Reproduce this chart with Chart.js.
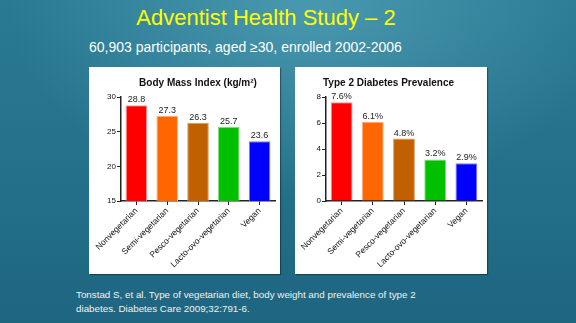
<!DOCTYPE html>
<html>
<head>
<meta charset="utf-8">
<script src="https://cdn.jsdelivr.net/npm/chart.js"></script>
<style>
  html, body { margin: 0; padding: 0; }
  body {
    width: 576px; height: 323px; overflow: hidden; position: relative;
    font-family: "Liberation Sans", Arial, sans-serif;
    background:
      radial-gradient(ellipse 300px 190px at 310px 10px, rgba(110,190,210,0.45), rgba(110,190,210,0) 100%),
      linear-gradient(180deg, #2a7a93 0%, #236f89 60%, #1e6580 100%);
  }
  #title { position: absolute; left: 0; width: 532px; top: 5px; text-align: center;
    color: #ffff00; font-size: 22px; }
  #sub { position: absolute; left: 89px; top: 39px; color: #ffffff; font-size: 14px; }
  #note { position: absolute; left: 76px; top: 288px; color: #eef4f6; font-size: 9.8px; line-height: 13.5px; }
  .panel { position: absolute; top: 67px; height: 207px; background: #fff; overflow: hidden;
    box-shadow: 1px 1px 1px rgba(0,0,0,0.35); }
  #p1 { left: 89px; width: 191px; }
  #p2 { left: 295px; width: 192px; }
</style>
</head>
<body>
<div id="title">Adventist Health Study – 2</div>
<div id="sub">60,903 participants, aged ≥30, enrolled 2002-2006</div>
<div id="note">Tonstad S, et al. Type of vegetarian diet, body weight and prevalence of type 2<br>diabetes. Diabetes Care 2009;32:791-6.</div>
<div class="panel" id="p1"><canvas id="c1" width="191" height="207"></canvas></div>
<div class="panel" id="p2"><canvas id="c2" width="192" height="207"></canvas></div>
<script>
const categories = ["Nonvegetarian", "Semi-vegetarian", "Pesco-vegetarian", "Lacto-ovo-vegetarian", "Vegan"];
const bmiValues = [28.8, 27.3, 26.3, 25.7, 23.6];
const diabetesValues = [7.6, 6.1, 4.8, 3.2, 2.9];
const barColors = ["#ff0000", "#ff6600", "#c06000", "#00c000", "#0000ff"];
const borderColors = ["#ff9a9a", "#ffb080", "#d89a60", "#80e080", "#8080ff"];

const FONT = '"Liberation Sans", Arial, sans-serif';

const valueLabels = {
  id: 'valueLabels',
  afterDatasetsDraw(chart, args, opts) {
    const ctx = chart.ctx;
    const meta = chart.getDatasetMeta(0);
    ctx.save();
    ctx.font = '9px ' + FONT;
    ctx.fillStyle = '#222';
    ctx.textAlign = 'center';
    ctx.textBaseline = 'bottom';
    meta.data.forEach((bar, i) => {
      const v = chart.data.datasets[0].data[i];
      ctx.fillText(v.toFixed(1) + opts.suffix, bar.x, bar.y - 1);
    });
    ctx.restore();
  }
};

function makeChart(id, title, values, min, max, step, suffix, axisX, titleFull) {
  new Chart(document.getElementById(id), {
    type: 'bar',
    data: {
      labels: categories,
      datasets: [{
        data: values,
        backgroundColor: barColors,
        borderColor: borderColors,
        borderWidth: 1,
        barPercentage: 0.7,
        categoryPercentage: 1
      }]
    },
    plugins: [valueLabels],
    options: {
      responsive: false,
      animation: false,
      layout: { padding: { left: 0, right: 5, top: 0 } },
      plugins: {
        legend: { display: false },
        tooltip: { enabled: false },
        valueLabels: { suffix: suffix },
        title: {
          display: true,
          fullSize: titleFull,
          text: title,
          color: '#111',
          font: { family: FONT, size: 10, weight: 'bold' },
          padding: { top: 10, bottom: 8 }
        }
      },
      scales: {
        x: {
          afterFit(scale) { scale.height = 73; },
          grid: { display: true, drawOnChartArea: false, offset: false, tickLength: 4, color: '#222' },
          border: { color: '#222', width: 1.5 },
          ticks: {
            color: '#111', minRotation: 45, maxRotation: 45, autoSkip: false, padding: 1,
            font: { family: FONT, size: 8.5 }
          }
        },
        y: {
          min: min, max: max,
          afterFit(scale) { scale.width = axisX; },
          grid: { drawOnChartArea: false, tickLength: 4, color: '#222' },
          border: { color: '#222', width: 1.5 },
          ticks: {
            stepSize: step, color: '#111', padding: 1,
            font: { family: FONT, size: 8 }
          }
        }
      }
    }
  });
}

makeChart('c1', ['Body Mass Index (kg/m²)'], bmiValues, 15, 30, 5, '', 32, false);
makeChart('c2', 'Type 2 Diabetes Prevalence', diabetesValues, 0, 8, 2, '%', 31, true);
</script>
</body>
</html>
